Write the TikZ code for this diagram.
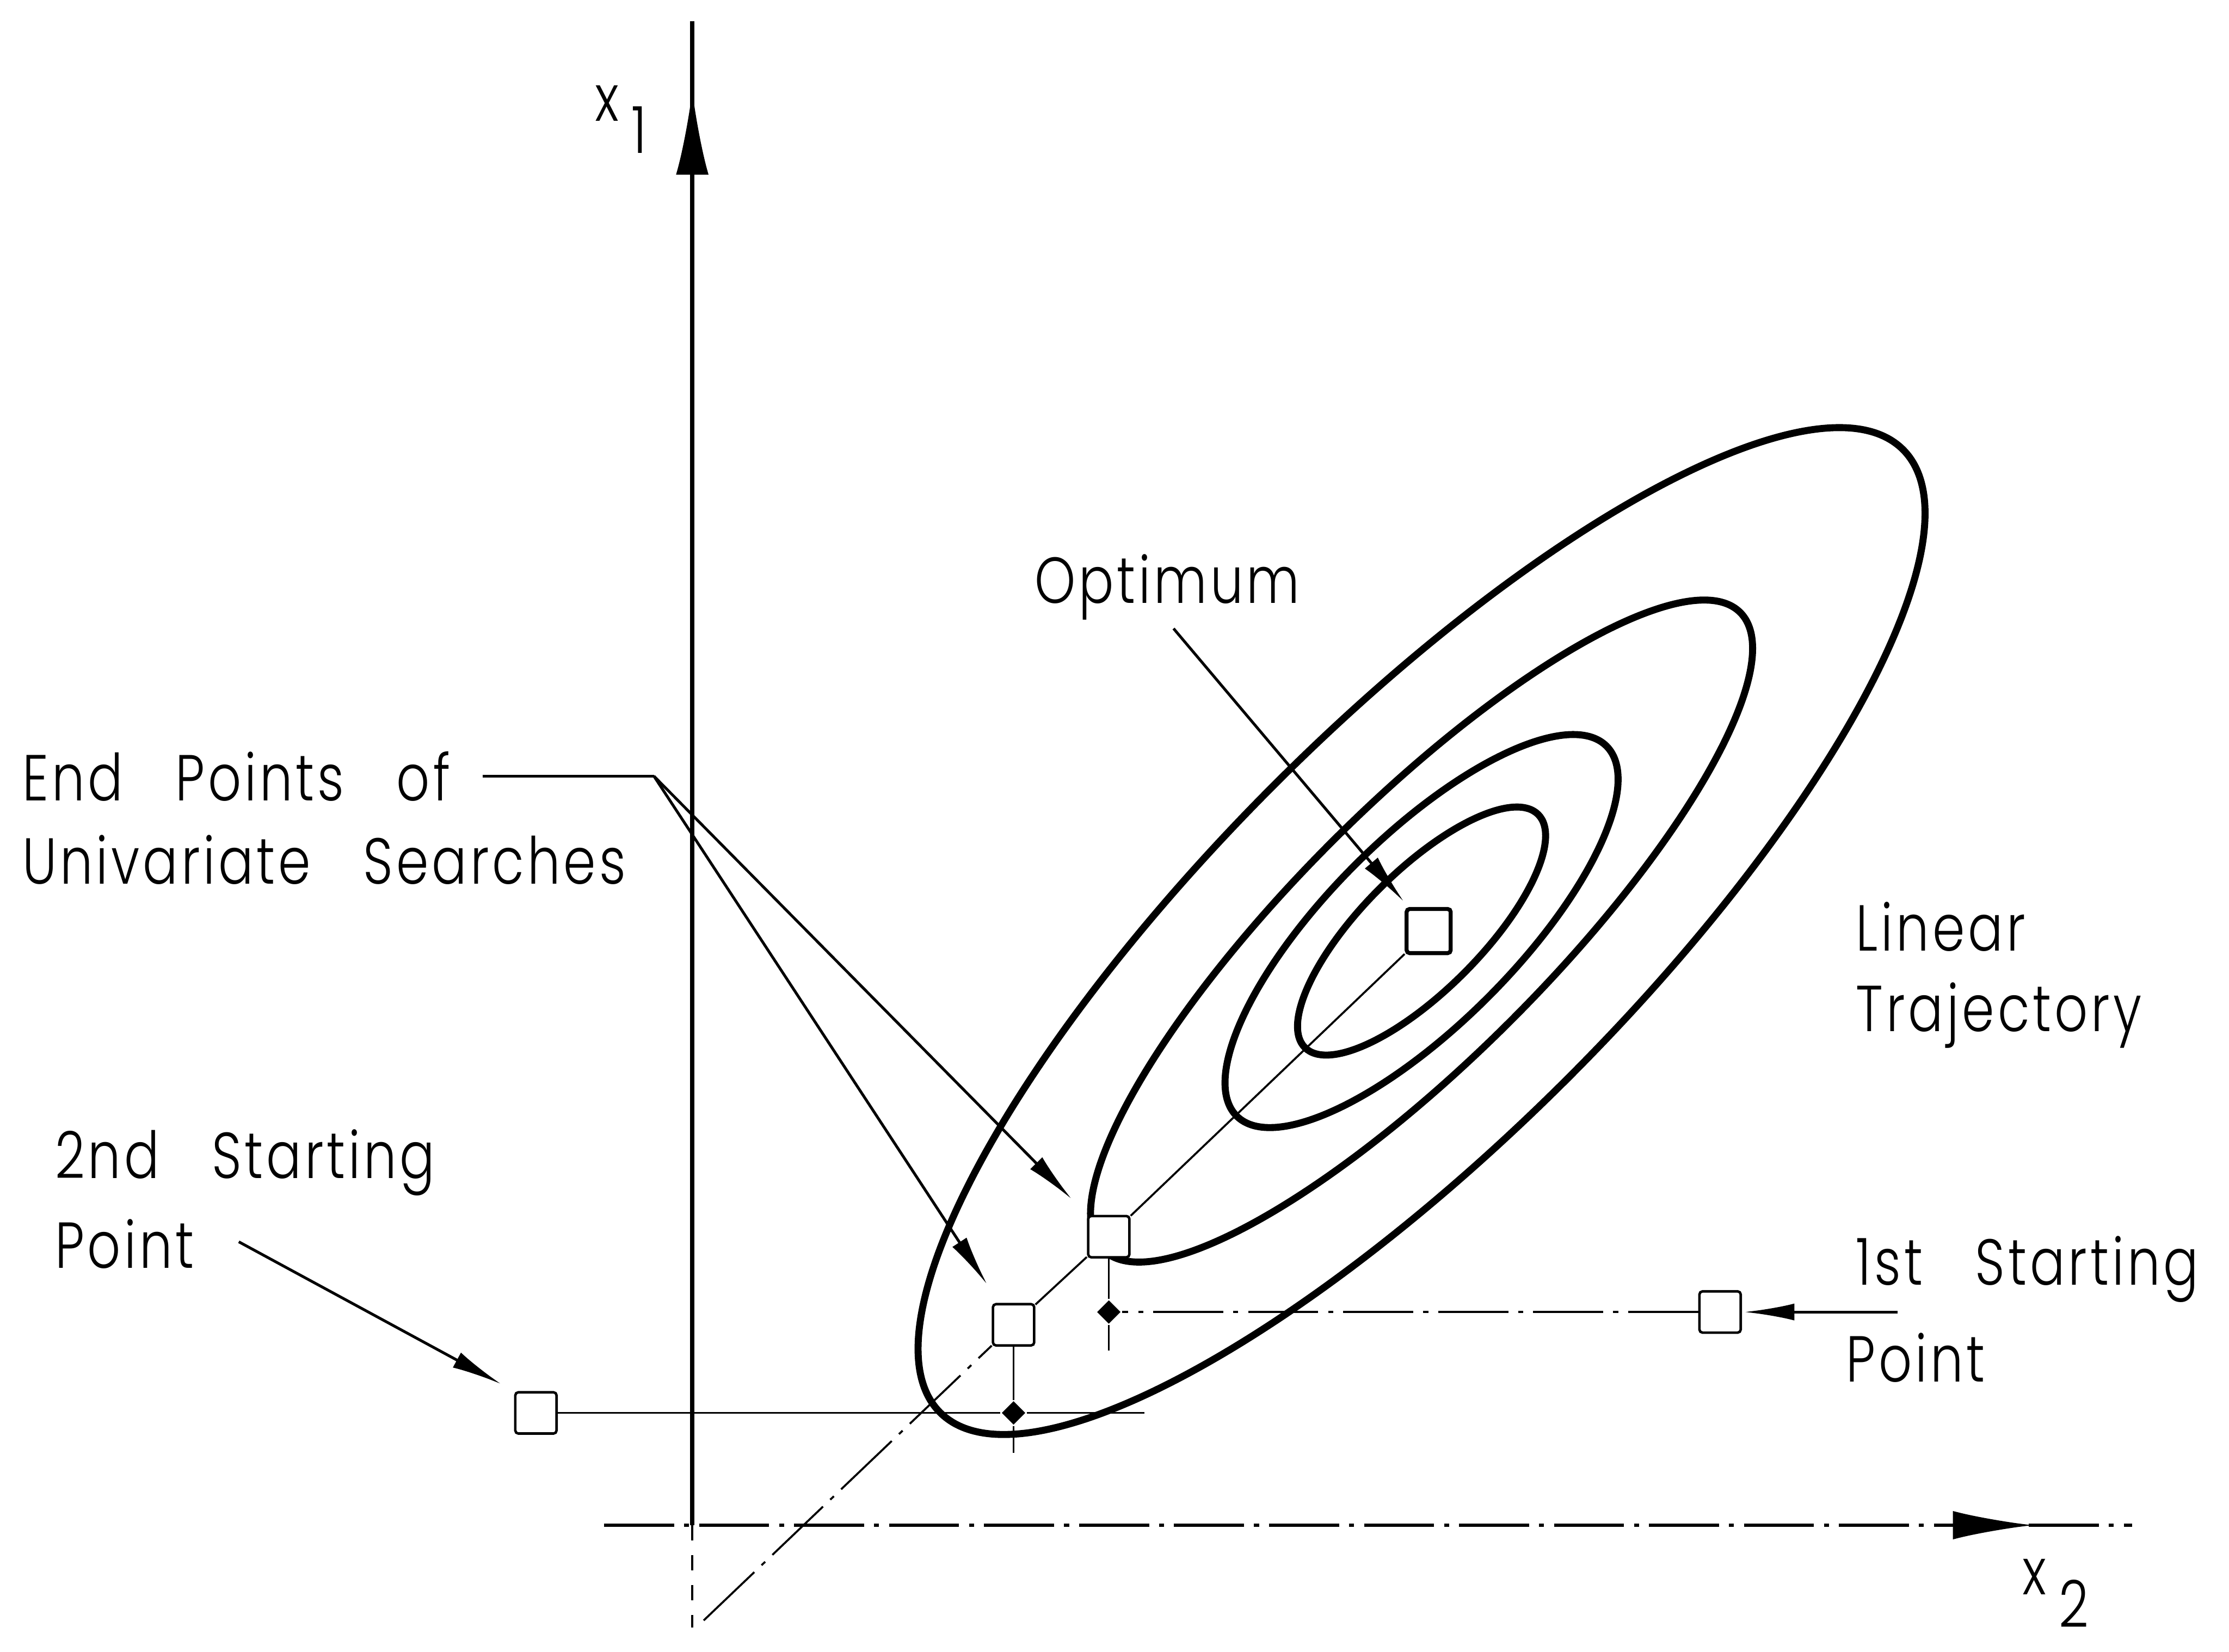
\documentclass[tikz,border=0pt]{standalone}
\usepackage{fontspec}
\setmainfont{Poppins}[UprightFont={* Light}, FakeStretch=0.8, LetterSpace=5, WordSpace=3]
\usetikzlibrary{shapes.geometric, arrows.meta, positioning, calc}

\begin{document}
\begin{tikzpicture}[
    x=0.01cm, y=-0.01cm,
    ring/.style={line width=1.4pt},
    axis/.style={line width=0.8pt},
    thinline/.style={line width=0.4pt},
    centre/.style={line width=0.4pt, dash pattern=on 14pt off 2pt on 1pt off 2pt},
    leader/.style={line width=0.55pt},
    pointer/.style={-{Latex[length=10pt,width=3.4pt]}, leader, shorten >=4.5pt},
    bigtip/.style={-{Latex[length=17pt,width=6.5pt]}, axis},
    marker/.style={rectangle, draw, fill=white, line width=0.5pt, minimum size=0.29cm, inner sep=0pt, rounded corners=0.6pt},
    hit/.style={diamond, fill=black, minimum size=0.17cm, inner sep=0pt},
    lbl/.style={font=\fontsize{13}{16.2}\selectfont, inner sep=0pt, align=left},
]
\useasboundingbox (0,0) rectangle (1568,1162);

% Axes
\coordinate (o) at (487,1073);
\coordinate (x1top) at (487,15);
\coordinate (x1bot) at (487,1145);
\coordinate (x1base) at (487,124);
\coordinate (x1tip) at (487,63);
\coordinate (x2left) at (425,1073);
\coordinate (x2right) at (1500,1073);
\coordinate (x2base) at (1372,1073);
\coordinate (x2tip) at (1430,1073);
\draw[axis] (o) -- (x1top);
\draw[bigtip] (x1base) -- (x1tip);
\draw[thinline, dashed] (o) -- (x1bot);
\draw[centre, line width=0.6pt] (x2left) -- (x2right);
\draw[bigtip, line width=0.6pt, -{Latex[length=16pt,width=5.7pt]}] (x2base) -- (x2tip);
\node[lbl, anchor=base west] (x1lab) at (418,85) {x\kern2.5pt\raisebox{-6.5pt}{1}};
\node[lbl, anchor=base west] (x2lab) at (1422,1122) {x\kern2.5pt\raisebox{-6.5pt}{2}};

% Contours
\coordinate (ctr) at (1000,655);
\foreach \a/\b in {116/42, 184/66, 317/89, 479/146}
  \draw[ring, rotate around={45:(ctr)}] (ctr) ellipse [x radius=\a, y radius=\b];

% Points
\node[marker, minimum size=0.31cm, line width=0.8pt] (opt) at (1005,655) {};
\node[marker] (e1) at (713,932) {};
\node[marker] (e2) at (780,870) {};
\node[marker] (s1) at (1210,923) {};
\node[marker] (s2) at (377,994) {};
\node[hit] (d1) at (780,923) {};
\node[hit] (d2) at (713,994) {};

% Trajectory and searches
\coordinate (tstart) at (495,1140);
\draw[centre] (tstart) -- (e1);
\draw[centre] (e1) -- (e2);
\draw[thinline] (e2) -- (opt);
\coordinate (s2end) at (805,994);
\coordinate (e1tail) at (713,1022);
\coordinate (e2tail) at (780,950);
\draw[thinline] (s2) -- (d2);
\draw[thinline] (d2) -- (s2end);
\draw[thinline] (d2) -- (e1);
\draw[thinline] (d2) -- (e1tail);
\draw[centre] (s1) -- (d1);
\draw[centre] (d1) -- (e2);
\draw[centre] (d1) -- (e2tail);

% Labels
\node[lbl] (optlab) at (821,413) {Optimum};
\draw[pointer, shorten <=2pt, shorten >=1.5pt] (optlab.south) -- (opt);

\node[lbl, anchor=west] (ep1) at (15,546) {End Points of};
\node[lbl, anchor=west] (ep2) at (15,605) {Univariate Searches};
\coordinate (fork) at (460,546);
\draw[leader, shorten <=0.22cm] (ep1) -- (fork);
\draw[pointer] (fork) -- (e2);
\draw[pointer] (fork) -- (e1);

\node[lbl, anchor=west] (sp2a) at (38,818) {2nd Starting};
\node[lbl, anchor=west] (sp2b) at (38,875) {Point};
\draw[pointer, shorten <=0.35cm, shorten >=3pt] (sp2b.north east) -- (s2.north west);

\node[lbl, anchor=west] (sp1a) at (1305,893) {1st Starting};
\node[lbl, anchor=west] (sp1b) at (1298,955) {Point};
\coordinate (s1from) at (1335,923);
\draw[pointer, shorten >=0.5pt] (s1from) -- (s1);

\node[lbl, anchor=west] (traj) at (1305,686) {Linear\\Trajectory};

\end{tikzpicture}
\end{document}
